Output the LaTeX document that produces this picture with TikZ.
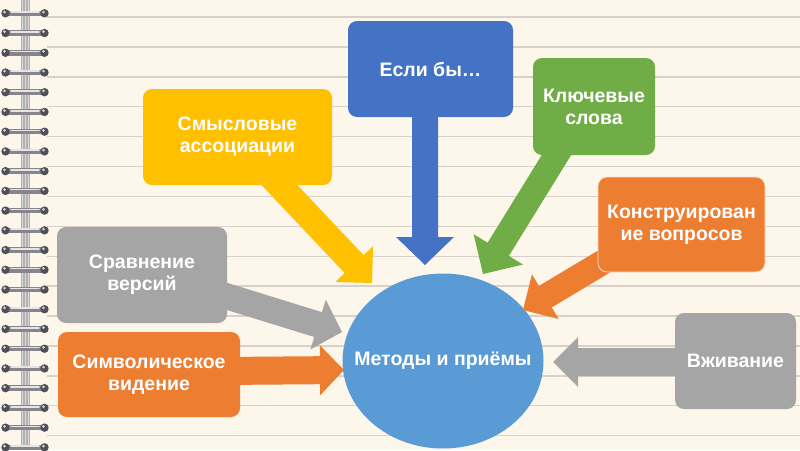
\documentclass[tikz,border=0pt]{standalone}
\usepackage{fontspec}
\setmainfont{Liberation Sans}
\usetikzlibrary{calc,shapes.geometric}
\definecolor{bgc}{HTML}{FDF6EA}
\definecolor{rulec}{HTML}{D8D1CA}
\definecolor{bluec}{HTML}{4472C4}
\definecolor{circc}{HTML}{5B9BD5}
\definecolor{greenc}{HTML}{70AD47}
\definecolor{yellowc}{HTML}{FFC000}
\definecolor{orangec}{HTML}{ED7D31}
\definecolor{grayc}{HTML}{A5A5A5}
\definecolor{ringc}{HTML}{85858B}
\definecolor{ringd}{HTML}{4F4F57}
\tikzset{
  labfont/.style={text=white, font=\fontsize{19.5}{22}\selectfont\bfseries},
  boxnode/.style={rectangle, rounded corners=9pt, inner sep=0pt, align=center, labfont},
  rulel/.style={rulec, line width=1.4pt},
}
\newcommand\blockarrow[6]{%
  \fill[#3] let \p1=(#1), \p2=(#2), \n1={atan2(\y2-\y1,\x2-\x1)} in
   ($(\p1)+(\n1+90:#4)$) -- ($(\p2)+(\n1:-#6)+(\n1+90:#4)$) --
   ($(\p2)+(\n1:-#6)+(\n1+90:#5)$) -- (\p2) --
   ($(\p2)+(\n1:-#6)+(\n1-90:#5)$) -- ($(\p2)+(\n1:-#6)+(\n1-90:#4)$) --
   ($(\p1)+(\n1-90:#4)$) -- cycle;}
\begin{document}
\begin{tikzpicture}[x=1pt,y=-1pt]
\fill[bgc] (0,0) rectangle (800,450);
\useasboundingbox (0,0) rectangle (800,450);
% ruled lines
\foreach \k in {0,...,14} {
  \draw[rulel] (47,{17+29.9*\k}) -- (800,{17+29.9*\k});
}
% spine
\fill[gray!60] (21,0) rectangle (30,450);
\foreach \xx in {22.5,25.5,28.5} \draw[gray!30, line width=0.8pt] (\xx,0) -- (\xx,450);
% rings
\foreach \k in {0,...,22} {
  \pgfmathsetmacro\yy{13.3+19.73*\k}
  \draw[ringc, line width=5.5pt, line cap=round] (6,\yy) -- (44,\yy);
  \draw[white!80!gray, line width=1.6pt, line cap=round] (11,\yy-1.2) -- (39,\yy-1.2);
  \fill[ringd] (5.5,\yy) circle (4.2pt);
  \fill[ringd] (44.5,\yy) circle (4.2pt);
  \fill[white!65!gray] (4.5,\yy-1.3) circle (1.5pt);
  \fill[white!65!gray] (43.5,\yy-1.3) circle (1.5pt);
}
% centre
\node[ellipse, fill=circc, minimum width=201pt, minimum height=175pt, inner sep=0pt] (mid) at (443,361) {};
\node[labfont] (midtext) at (mid.center) {Методы и приёмы};
% arrow end points
\coordinate (sBlue) at (425,100);   \coordinate (tBlue) at (425,265);
\coordinate (sGreen) at (575,125);  \coordinate (tGreen) at (483,274);
\coordinate (sYel) at (252,156);    \coordinate (tYel) at (372,283);
\coordinate (sOrK) at (640,240);    \coordinate (tOrK) at (523,310);
\coordinate (sGrV) at (700,362);    \coordinate (tGrV) at (553,362);
\coordinate (sGrS) at (200,288);    \coordinate (tGrS) at (342,332);
\coordinate (sOrS) at (220,371);    \coordinate (tOrS) at (344,370);
\blockarrow{sBlue}{tBlue}{bluec}{13pt}{29pt}{28pt}
\blockarrow{sGreen}{tGreen}{greenc}{12.5pt}{29pt}{29pt}
\blockarrow{sYel}{tYel}{yellowc}{13pt}{26pt}{26pt}
\blockarrow{sOrK}{tOrK}{orangec}{12.5pt}{26pt}{26pt}
\blockarrow{sGrV}{tGrV}{grayc}{14pt}{25pt}{25pt}
\blockarrow{sGrS}{tGrS}{grayc}{13pt}{26pt}{25pt}
\blockarrow{sOrS}{tOrS}{orangec}{14pt}{25pt}{24pt}
% boxes
\node[boxnode, fill=bluec, minimum width=165pt, minimum height=96pt] (esli) at (430.5,69) {Если бы…};
\node[boxnode, fill=greenc, minimum width=122pt, minimum height=97pt] (klyuch) at (594,106.5) {Ключевые\\слова};
\node[boxnode, fill=yellowc, minimum width=189pt, minimum height=96pt] (smysl) at (237.5,137) {Смысловые\\ассоциации};
\node[boxnode, fill=orangec, draw=white!75!orangec, line width=0.8pt, minimum width=167pt, minimum height=95pt] (konstr) at (681.5,224.5) {Конструирован\\ие вопросов};
\node[boxnode, fill=grayc, minimum width=121pt, minimum height=96pt] (vzhiv) at (735.5,361) {Вживание};
\node[boxnode, fill=grayc, minimum width=170pt, minimum height=96pt] (sravn) at (142,275) {Сравнение\\версий};
\node[boxnode, fill=orangec, minimum width=182pt, minimum height=85pt] (simv) at (149,374.5) {Символическое\\видение};
\end{tikzpicture}
\end{document}
